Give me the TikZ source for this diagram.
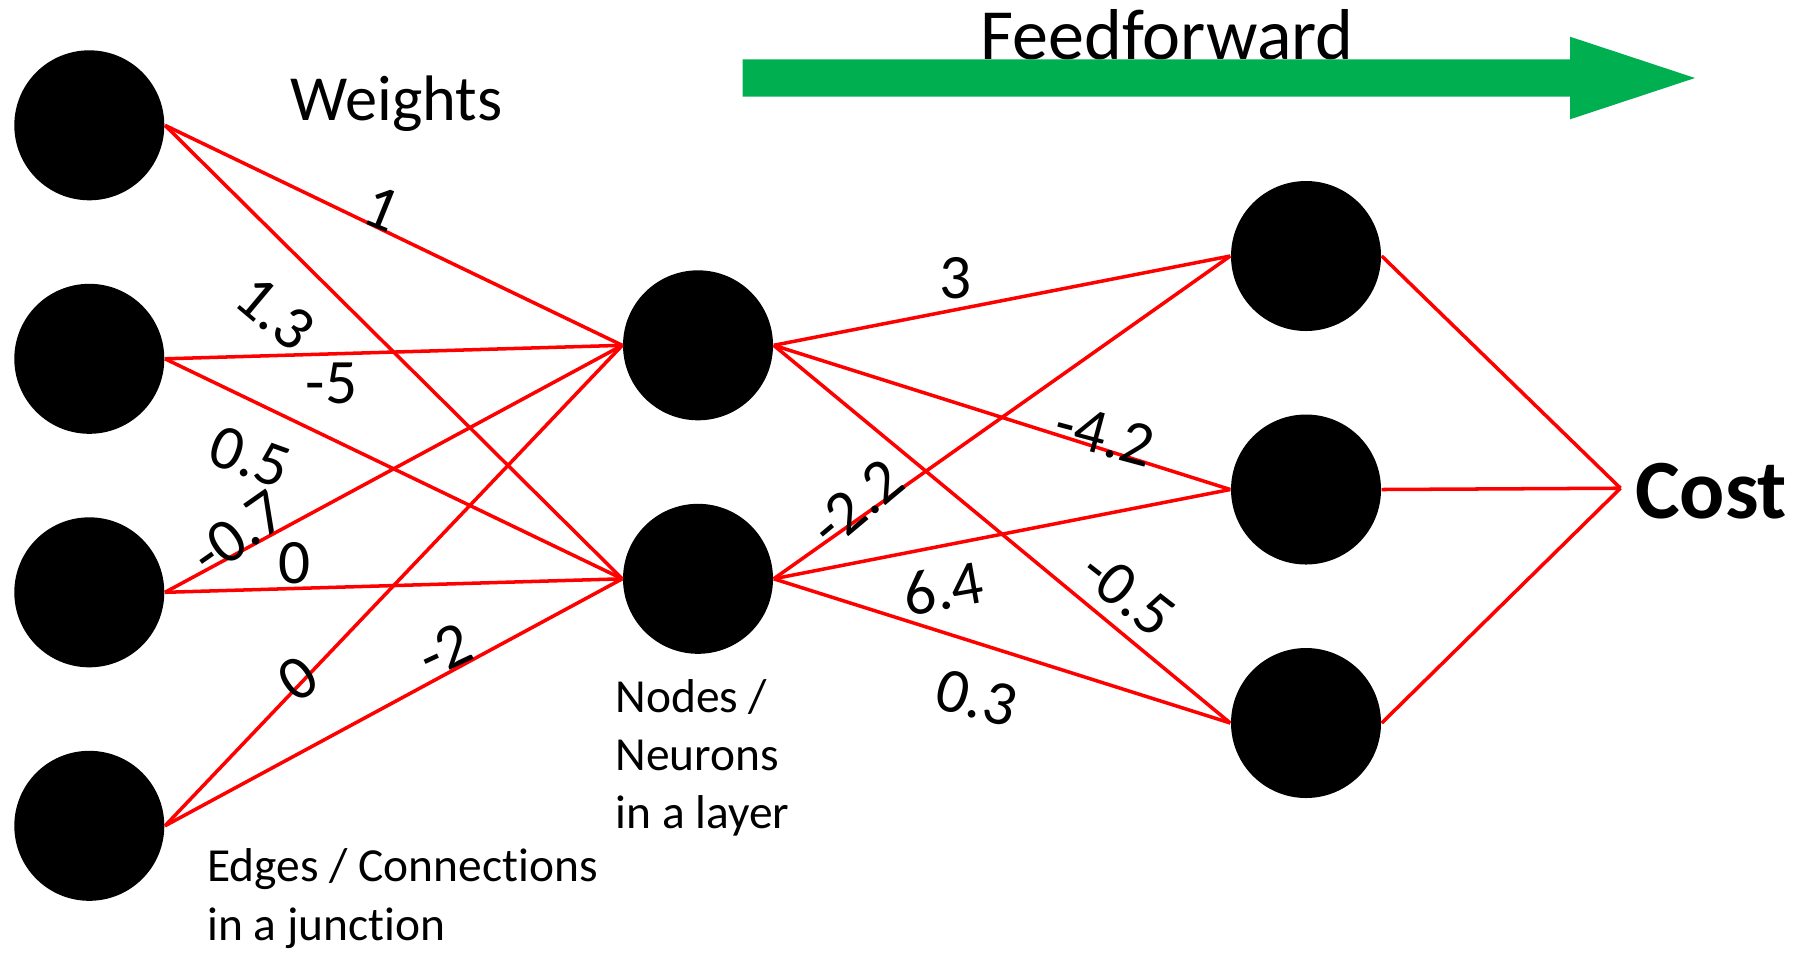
\documentclass[tikz,border=0pt]{standalone}
\usepackage{fontspec}
\setmainfont{Carlito}[Ligatures=NoCommon]
\definecolor{verdeavance}{HTML}{00B050}

\begin{document}
\begin{tikzpicture}[
        neurona/.style={circle, fill=black, minimum size=1.5cm, inner sep=0pt},
        enlace/.style={red, line width=1pt},
        peso/.style={font=\fontsize{18}{21}\selectfont, inner sep=0pt},
        nota/.style={font=\fontsize{13.5}{16.6}\selectfont, align=left, inner sep=0pt, anchor=base west}
    ]
        \useasboundingbox (0,0) rectangle (18.17,-9.52);

        % capa de entrada, capa oculta y capa de salida
        \node[neurona] (in1) at (0.893,-1.253) {};
        \node[neurona] (in2) at (0.893,-3.588) {};
        \node[neurona] (in3) at (0.893,-5.923) {};
        \node[neurona] (in4) at (0.893,-8.258) {};
        \node[neurona] (hid1) at (6.98,-3.453) {};
        \node[neurona] (hid2) at (6.98,-5.788) {};
        \node[neurona] (out1) at (13.06,-2.56) {};
        \node[neurona] (out2) at (13.06,-4.895) {};
        \node[neurona] (out3) at (13.06,-7.23) {};
        \coordinate (costo) at (16.205,-4.882);

        \draw[enlace] (in1.east) -- (hid1.west);
        \draw[enlace] (in1.east) -- (hid2.west);
        \draw[enlace] (in2.east) -- (hid1.west);
        \draw[enlace] (in2.east) -- (hid2.west);
        \draw[enlace] (in3.east) -- (hid1.west);
        \draw[enlace] (in3.east) -- (hid2.west);
        \draw[enlace] (in4.east) -- (hid1.west);
        \draw[enlace] (in4.east) -- (hid2.west);
        \draw[enlace] (hid1.east) -- (out1.west);
        \draw[enlace] (hid1.east) -- (out2.west);
        \draw[enlace] (hid1.east) -- (out3.west);
        \draw[enlace] (hid2.east) -- (out1.west);
        \draw[enlace] (hid2.east) -- (out2.west);
        \draw[enlace] (hid2.east) -- (out3.west);
        \draw[enlace] (out1.east) -- (costo);
        \draw[enlace] (out2.east) -- (costo);
        \draw[enlace] (out3.east) -- (costo);

        % pesos
        \node[peso, rotate=-22] (w1) at (3.817,-2.083) {1};
        \node[peso, rotate=-40] (w2) at (2.75,-3.133) {1.3};
        \node[peso] (w3) at (3.317,-3.833) {-5};
        \node[peso, rotate=-20] (w4) at (2.50,-4.567) {0.5};
        \node[peso, rotate=35] (w5) at (2.383,-5.333) {-0.7};
        \node[peso] (w6) at (2.95,-5.633) {0};
        \node[peso, rotate=35] (w7) at (2.983,-6.783) {0};
        \node[peso, rotate=25] (w8) at (4.45,-6.50) {-2};
        \node[peso] (w9) at (9.56,-2.781) {3};
        \node[peso, rotate=-15] (w10) at (11.05,-4.35) {-4.2};
        \node[peso, rotate=40] (w11) at (8.567,-5.033) {-2.2};
        \node[peso, rotate=10] (w12) at (9.433,-5.883) {6.4};
        \node[peso, rotate=-38] (w13) at (11.283,-5.933) {-0.5};
        \node[peso, rotate=-15] (w14) at (9.767,-6.983) {0.3};

        % textos
        \node[font=\fontsize{18.3}{22}\selectfont, inner sep=0pt, anchor=base west] (pesos) at (2.898,-1.207) {Weights};
        \node[font=\fontsize{20.5}{24}\selectfont, inner sep=0pt, anchor=base west] (avance) at (9.80,-0.593) {Feedforward};
        \node[font=\fontsize{24}{28}\bfseries\selectfont, inner sep=0pt, anchor=base west] (coste) at (16.343,-5.186) {Cost};
        \node[nota] (aristas) at (2.066,-9.40) {Edges / Connections\\in a junction};
        \node[nota] (capa) at (6.148,-8.289) {Nodes /\\Neurons\\in a layer};

        % flecha de avance
        \fill[verdeavance] (7.427,-0.593) -- (15.70,-0.593) -- (15.70,-0.367) -- (16.95,-0.78)
            -- (15.70,-1.193) -- (15.70,-0.967) -- (7.427,-0.967) -- cycle;
    \end{tikzpicture}
\end{document}
